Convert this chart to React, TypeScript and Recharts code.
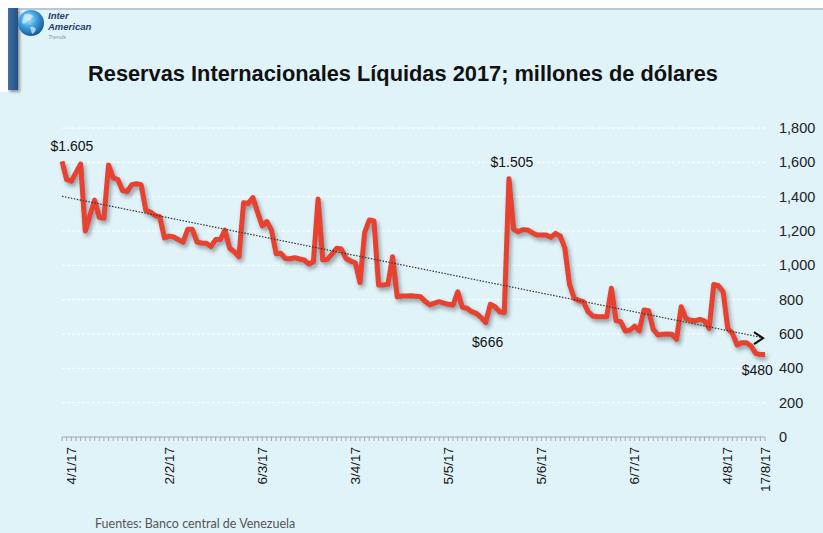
import React from 'react';
import { LineChart, Line, XAxis, YAxis, CartesianGrid, LabelList } from 'recharts';

const categories: string[] = [
  '2/1/17', '3/1/17', '4/1/17', '5/1/17', '6/1/17', '9/1/17', '10/1/17', '11/1/17', '12/1/17', '13/1/17',
  '16/1/17', '17/1/17', '18/1/17', '19/1/17', '20/1/17', '23/1/17', '24/1/17', '25/1/17', '26/1/17', '27/1/17',
  '30/1/17', '31/1/17', '1/2/17', '2/2/17', '3/2/17', '6/2/17', '7/2/17', '8/2/17', '9/2/17', '10/2/17',
  '13/2/17', '14/2/17', '15/2/17', '16/2/17', '17/2/17', '20/2/17', '21/2/17', '22/2/17', '23/2/17', '24/2/17',
  '1/3/17', '2/3/17', '3/3/17', '6/3/17', '7/3/17', '8/3/17', '9/3/17', '10/3/17', '13/3/17', '14/3/17',
  '15/3/17', '16/3/17', '17/3/17', '20/3/17', '21/3/17', '22/3/17', '23/3/17', '24/3/17', '27/3/17', '28/3/17',
  '29/3/17', '30/3/17', '31/3/17', '3/4/17', '4/4/17', '5/4/17', '6/4/17', '7/4/17', '10/4/17', '11/4/17',
  '12/4/17', '17/4/17', '18/4/17', '20/4/17', '21/4/17', '24/4/17', '25/4/17', '26/4/17', '27/4/17', '28/4/17',
  '2/5/17', '3/5/17', '4/5/17', '5/5/17', '8/5/17', '9/5/17', '10/5/17', '11/5/17', '12/5/17', '15/5/17',
  '16/5/17', '17/5/17', '18/5/17', '19/5/17', '22/5/17', '23/5/17', '24/5/17', '25/5/17', '26/5/17', '30/5/17',
  '31/5/17', '1/6/17', '2/6/17', '5/6/17', '6/6/17', '7/6/17', '8/6/17', '9/6/17', '12/6/17', '13/6/17',
  '14/6/17', '15/6/17', '16/6/17', '20/6/17', '21/6/17', '22/6/17', '23/6/17', '27/6/17', '28/6/17', '29/6/17',
  '30/6/17', '3/7/17', '4/7/17', '6/7/17', '7/7/17', '10/7/17', '11/7/17', '12/7/17', '13/7/17', '14/7/17',
  '17/7/17', '18/7/17', '19/7/17', '20/7/17', '21/7/17', '25/7/17', '26/7/17', '27/7/17', '28/7/17', '31/7/17',
  '1/8/17', '2/8/17', '3/8/17', '4/8/17', '7/8/17', '8/8/17', '9/8/17', '10/8/17', '11/8/17', '14/8/17',
  '16/8/17', '17/8/17',
];

const reserves: number[] = [
  1605, 1500, 1490, 1540, 1590, 1200, 1290, 1380, 1280, 1275,
  1585, 1510, 1500, 1435, 1430, 1470, 1475, 1470, 1320, 1310,
  1290, 1283, 1160, 1170, 1165, 1150, 1135, 1210, 1210, 1135,
  1130, 1128, 1110, 1150, 1150, 1205, 1100, 1080, 1050, 1365,
  1360, 1395, 1310, 1230, 1255, 1205, 1068, 1070, 1040, 1038,
  1044, 1037, 1031, 1008, 1021, 1386, 1031, 1035, 1065, 1099,
  1095, 1040, 1025, 1015, 900, 1190, 1264, 1258, 885, 885,
  889, 1050, 817, 821, 822, 823, 820, 817, 790, 770,
  780, 788, 780, 773, 769, 846, 755, 750, 730, 720,
  697, 666, 773, 759, 730, 725, 1505, 1210, 1196, 1208,
  1206, 1190, 1176, 1176, 1176, 1163, 1186, 1171, 1100, 890,
  810, 795, 788, 730, 705, 701, 701, 701, 866, 678,
  672, 617, 623, 646, 619, 740, 736, 627, 594, 598,
  600, 598, 570, 759, 690, 680, 677, 685, 677, 633,
  889, 881, 846, 633, 604, 536, 549, 549, 530, 487,
  480, 480,
];

const shownDates: string[] = ['4/1/17', '2/2/17', '6/3/17', '3/4/17', '5/5/17', '5/6/17', '6/7/17', '4/8/17', '17/8/17'];
const yTicks: number[] = [0, 200, 400, 600, 800, 1000, 1200, 1400, 1600, 1800];
const annotationIdx: number[] = [0, 96, 91, 150];
const annotationText: string[] = ['$1.605', '$1.505', '$666', '$480'];

const annotationOffset: Record<number, [number, number]> = {
  0: [10, -10],
  96: [3, -12],
  91: [2, 24],
  150: [-3, 20],
};

// Linear least-squares trend (as an Excel linear trendline)
const n = reserves.length;
const meanX = (n - 1) / 2;
const meanY = reserves.reduce((a, b) => a + b, 0) / n;
let sxy = 0;
let sxx = 0;
reserves.forEach((v, i) => {
  sxy += (i - meanX) * (v - meanY);
  sxx += (i - meanX) * (i - meanX);
});
const slope = sxy / sxx;
const intercept = meanY - slope * meanX;

const data = categories.map((d, i) => ({
  date: d,
  value: reserves[i],
  trend: intercept + slope * i,
}));

const FONT = '"Liberation Sans", Arial, Helvetica, sans-serif';

const XTick = (props: any) => {
  const { x, y, payload } = props;
  const show = shownDates.includes(payload.value);
  return (
    <g>
      <line x1={x} y1={y} x2={x} y2={y + 4} stroke="#a8a8a8" strokeWidth={1} />
      {show && (
        <text
          x={x}
          y={y + 10}
          transform={`rotate(-90 ${x} ${y + 10})`}
          textAnchor="end"
          dominantBaseline="central"
          fontSize={13.5}
          fontFamily={FONT}
          fill="#111"
        >
          {payload.value}
        </text>
      )}
    </g>
  );
};

const renderAnnotation = (props: any) => {
  const { x, y, index } = props;
  const k = annotationIdx.indexOf(index);
  if (k < 0) return null;
  const [dx, dy] = annotationOffset[index];
  return (
    <text key={`a${index}`} x={x + dx} y={y + dy} textAnchor="middle" fontSize={14} fontFamily={FONT} fill="#111">
      {annotationText[k]}
    </text>
  );
};

const renderArrow = (props: any) => {
  const { cx, cy, index } = props;
  if (index !== n - 1) return <g key={`t${index}`} />;
  const tip = cx - 2;
  return (
    <path
      key={`t${index}`}
      d={`M${tip - 9},${cy - 6} L${tip},${cy} L${tip - 9},${cy + 6}`}
      fill="none"
      stroke="#111"
      strokeWidth={2}
    />
  );
};

export default function App() {
  return (
    <div
      style={{
        position: 'absolute',
        left: 0,
        top: 0,
        width: 823,
        height: 533,
        background: '#e0f3f9',
        overflow: 'hidden',
        fontFamily: FONT,
      }}
    >
      <style>{`.redline .recharts-line-curve { filter: drop-shadow(2px 3px 2px rgba(40,50,60,0.45)); }`}</style>
      <div style={{ position: 'absolute', left: 0, top: 0, width: 823, height: 8, background: '#ffffff', borderBottom: '2px solid #b4c8dc' }} />
      <div style={{ position: 'absolute', left: 0, top: 0, width: 8, height: 92, background: '#ffffff' }} />
      <div
        style={{
          position: 'absolute',
          left: 8,
          top: 8,
          width: 10,
          height: 82,
          background: 'linear-gradient(90deg, #3c6fa3, #24507f)',
          boxShadow: '2px 2px 3px rgba(0,0,0,0.4)',
        }}
      />
      <svg width={823} height={533} style={{ position: 'absolute', left: 0, top: 0 }}>
        <defs>
          <radialGradient id="globe" cx="40%" cy="35%" r="70%">
            <stop offset="0%" stopColor="#bfe9fb" />
            <stop offset="45%" stopColor="#3ea2e0" />
            <stop offset="100%" stopColor="#154f91" />
          </radialGradient>
        </defs>
        <circle cx={31} cy={23} r={13} fill="url(#globe)" />
        <path d="M24,15 q5,-3 9,1 q-2,4 -6,5 q-2,4 -5,2 z M30,27 q4,-1 6,2 q-1,4 -4,5 z" fill="#d8f2fc" opacity={0.7} />
        <text x={48} y={19} fontSize={9.5} fontStyle="italic" fontWeight="bold" fill="#24406e" fontFamily={FONT}>Inter</text>
        <text x={48} y={30} fontSize={9.5} fontStyle="italic" fontWeight="bold" fill="#24406e" fontFamily={FONT}>American</text>
        <text x={48} y={38.5} fontSize={6} fontStyle="italic" fill="#8a9aa8" fontFamily={FONT}>Trends</text>
        <text x={403} y={81} textAnchor="middle" fontSize={21.8} fontWeight="bold" fill="#111" fontFamily={FONT}>
          Reservas Internacionales Líquidas 2017; millones de dólares
        </text>
        <text x={95} y={528} fontSize={12.5} fill="#555" fontFamily="Lato, 'Open Sans', sans-serif">
          Fuentes: Banco central de Venezuela
        </text>
      </svg>
      <div style={{ position: 'absolute', left: 0, top: 0 }}>
        <LineChart width={823} height={533} data={data} margin={{ top: 128, right: 8, bottom: 36, left: 62 }}>
          <CartesianGrid vertical={false} stroke="#ffffff" strokeDasharray="3 2" />
          <XAxis
            dataKey="date"
            interval={0}
            tick={<XTick />}
            tickLine={false}
            tickSize={0}
            tickMargin={0}
            height={60}
            axisLine={{ stroke: '#a0a0a0' }}
          />
          <YAxis
            orientation="right"
            domain={[0, 1800]}
            ticks={yTicks}
            axisLine={false}
            tickLine={false}
            tickSize={0}
            tickMargin={14}
            width={50}
            interval={0}
            tick={{ fontSize: 14.5, fill: '#222', fontFamily: FONT }}
            tickFormatter={(v: number) => v.toLocaleString('en-US')}
          />
          <Line
            className="redline"
            type="linear"
            dataKey="value"
            stroke="#e8412f"
            strokeWidth={5}
            strokeLinejoin="round"
            dot={false}
            isAnimationActive={false}
          >
            <LabelList dataKey="value" content={renderAnnotation} />
          </Line>
          <Line
            type="linear"
            dataKey="trend"
            stroke="#333"
            strokeWidth={1.2}
            strokeDasharray="1.5 1.5"
            dot={renderArrow}
            activeDot={false}
            isAnimationActive={false}
          />
        </LineChart>
      </div>
    </div>
  );
}
